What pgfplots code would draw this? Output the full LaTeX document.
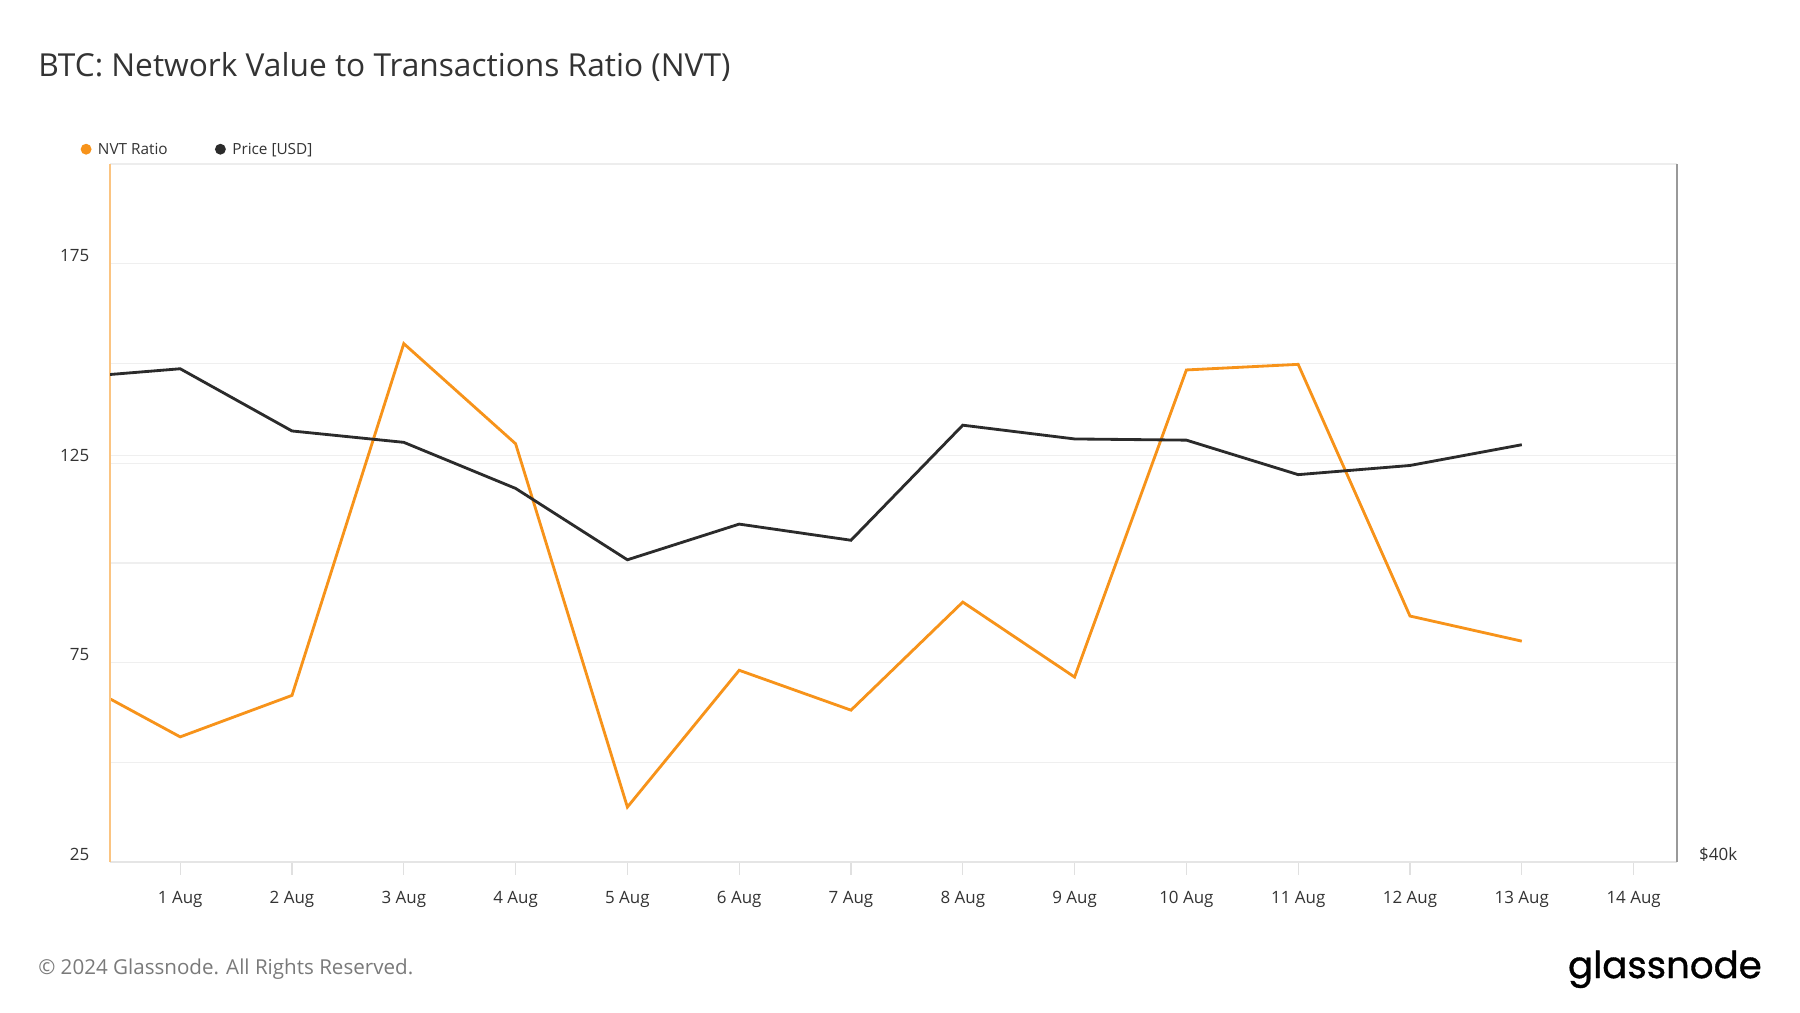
\documentclass[border=0pt]{standalone}
\usepackage{fontspec}
\setmainfont{Open Sans}
\newfontfamily\logofont{Poppins}[FakeBold=0.9]
\usepackage{pgfplots}
\pgfplotsset{compat=1.18}
\definecolor{nvt}{HTML}{F7931A}
\definecolor{price}{HTML}{2B2B2B}
\definecolor{gridc}{HTML}{EFEFEF}
\definecolor{txt}{HTML}{333333}
\definecolor{foot}{HTML}{7A7A7A}

\begin{document}
\begin{tikzpicture}
% canvas 1568 x 882 px at 0.02cm/px
\fill[white] (0,0) rectangle (31.36,17.64);
\node[anchor=west, inner sep=0, text=txt, font=\fontsize{15.7}{18}\selectfont] at (0.66,16.48)
  {BTC: Network Value to Transactions Ratio (NVT)};
% legend
\fill[nvt] (1.50,15.04) circle (0.095);
\node[anchor=base west, inner sep=0, text=txt, font=\fontsize{7.6}{9}\selectfont] at (1.70,14.95) {NVT Ratio};
\fill[price] (3.84,15.04) circle (0.095);
\node[anchor=base west, inner sep=0, text=txt, font=\fontsize{7.6}{9}\selectfont] at (4.04,14.95) {Price [USD]};
% footer
\node[anchor=west, inner sep=0, text=foot, font=\fontsize{10.2}{12}\selectfont] at (0.66,0.75)
  {© 2024 Glassnode. All Rights Reserved.};
\node[anchor=base east, inner sep=0, font=\logofont\fontsize{18.4}{20}\selectfont] at (30.70,0.60) {glassnode};

\begin{axis}[
  at={(1.92cm,2.62cm)}, anchor=south west, scale only axis,
  width=27.3cm, height=12.16cm,
  xmin=0.374, xmax=14.39, ymin=25, ymax=200,
  /pgf/number format/assume math mode=true,
  axis line style={draw=none},
  xtick={1,...,14},
  xticklabels={1 Aug,2 Aug,3 Aug,4 Aug,5 Aug,6 Aug,7 Aug,8 Aug,9 Aug,10 Aug,11 Aug,12 Aug,13 Aug,14 Aug},
  xtick pos=bottom, ytick pos=left, tick align=outside,
  major tick length=0.22cm,
  x tick style={color=black!12, line width=0.6pt},
  ytick={25,75,125,175}, minor ytick={50,100,150},
  y tick style={draw=none},
  ymajorgrids, yminorgrids,
  major grid style={gridc, line width=0.6pt},
  minor grid style={gridc, line width=0.6pt},
  extra y ticks={127}, extra y tick labels={},
  extra y tick style={grid=major, tick style={draw=none}},
  yticklabel style={font=\fontsize{8.4}{10}\selectfont, text=txt, anchor=east, xshift=-0.02cm, yshift=0.14cm},
  xticklabel style={font=\fontsize{8.4}{10}\selectfont, text=txt, yshift=-0.16cm},
  clip mode=individual,
]
\addplot[nvt, line width=1.4pt] coordinates {
  (0,71.6) (1,56.4) (2,66.8) (3,155.0) (4,129.9) (5,38.8) (6,73.1)
  (7,63.1) (8,90.2) (9,71.4) (10,148.4) (11,149.8) (12,86.7) (13,80.4)};
\draw[color=black!10, line width=0.8pt] (rel axis cs:0,0) -- (rel axis cs:1,0);
\draw[color=black!7, line width=0.8pt] (rel axis cs:0,1) -- (rel axis cs:1,1);
\draw[color=nvt!55, line width=0.8pt] (rel axis cs:0,0) -- (rel axis cs:0,1);
\end{axis}

\begin{axis}[
  at={(1.92cm,2.62cm)}, anchor=south west, scale only axis,
  width=27.3cm, height=12.16cm,
  xmin=0.374, xmax=14.39, ymin=40000, ymax=75000,
  axis x line=none, axis y line*=right,
  axis line style={draw=black!40, line width=0.9pt, -},
  scaled y ticks=false,
  ytick={40000}, yticklabels={\$40k},
  y tick style={draw=none},
  yticklabel style={font=\fontsize{8.4}{10}\selectfont, text=txt, anchor=west, xshift=0.26cm, yshift=0.14cm},
]
\addplot[price, line width=1.4pt] coordinates {
  (0,64280) (1,64740) (2,61620) (3,61050) (4,58740) (5,55160) (6,56950)
  (7,56140) (8,61910) (9,61220) (10,61160) (11,59430) (12,59890) (13,60930)};
\end{axis}
\end{tikzpicture}
\end{document}
